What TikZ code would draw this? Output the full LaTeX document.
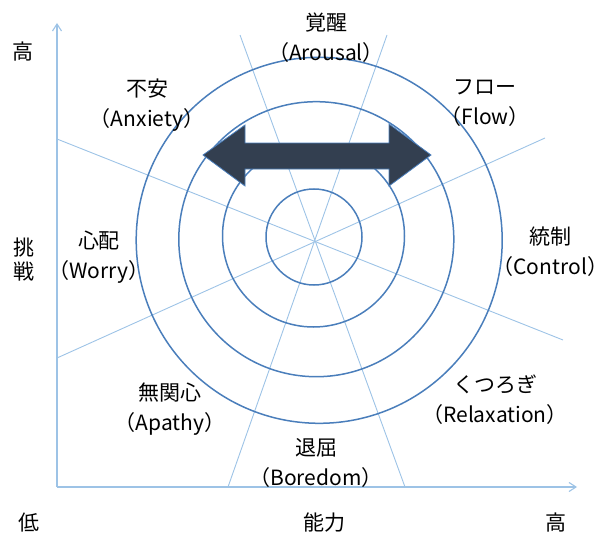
\documentclass[tikz,border=0pt]{standalone}
\usepackage{fontspec}
\setmainfont{Noto Sans CJK JP}
\usetikzlibrary{arrows.meta}
\definecolor{ring}{HTML}{4A7EBB}
\definecolor{spoke}{HTML}{9DC3E6}
\definecolor{arrowfill}{HTML}{333F50}
\begin{document}
\begin{tikzpicture}[x=1pt,y=-1pt,
  spokeline/.style={draw=spoke,line width=0.9pt},
  axisline/.style={draw=spoke,line width=1.1pt,-{Straight Barb[length=7pt,width=9pt]}},
  ringline/.style={draw=ring,line width=1.5pt},
  lbl/.style={align=center,inner sep=0pt,font=\fontsize{21}{30}\selectfont},
  vlbl/.style={align=center,inner sep=0pt,font=\fontsize{21}{24}\selectfont}]
\useasboundingbox (0,0) rectangle (603,535);
% spokes
\coordinate (a1) at (57,139);  \coordinate (a2) at (563,340);
\coordinate (b1) at (57,358);  \coordinate (b2) at (545,138);
\coordinate (c1) at (240,35);  \coordinate (c2) at (405,487);
\coordinate (d1) at (387,35);  \coordinate (d2) at (228,487);
\draw[spokeline] (a1) -- (a2);
\draw[spokeline] (b1) -- (b2);
\draw[spokeline] (c1) -- (c2);
\draw[spokeline] (d1) -- (d2);
% axes
\coordinate (origin) at (57,487);
\coordinate (ytop) at (57,23);
\coordinate (xend) at (577,487);
\draw[axisline] (origin) -- (ytop);
\draw[axisline] (origin) -- (xend);
% rings
\draw[ringline] (319.2,240.3) circle[radius=183];
\draw[ringline] (316.3,239.2) circle[radius=137.5];
\draw[ringline] (313.5,236) circle[radius=91];
\draw[ringline] (314,237) circle[radius=48];
% double arrow
\draw[fill=arrowfill,draw=ring,line width=0.8pt,line join=miter]
  (203,155) -- (245,125) -- (245,143) -- (389,143) -- (389,124) -- (431,155)
  -- (389,186) -- (389,169) -- (245,169) -- (245,186) -- cycle;
% labels
\node[lbl] (arousal) at (326,38) {覚醒\\（Arousal）};
\node[lbl] (anxiety) at (147,105) {不安\\（Anxiety）};
\node[lbl] (flow) at (485,103) {フロー\\（Flow）};
\node[lbl] (worry) at (99,257) {心配\\（Worry）};
\node[lbl] (control) at (545,252) {\hspace{0.5em}統制\\（Control\makebox[0.5em][l]{）}};
\node[lbl] (apathy) at (170,409) {無関心\\（Apathy）};
\node[lbl] (relax) at (495,400) {くつろぎ\\（Relaxation）};
\node[lbl] (boredom) at (316,463) {退屈\\（Boredom）};
\node[lbl] (yhigh) at (23,52) {高};
\node[vlbl] (challenge) at (24,260) {挑\\戦};
\node[lbl] (low) at (29,523) {低};
\node[lbl] (ability) at (324,523) {能力};
\node[lbl] (xhigh) at (556,523) {高};
\end{tikzpicture}
\end{document}
